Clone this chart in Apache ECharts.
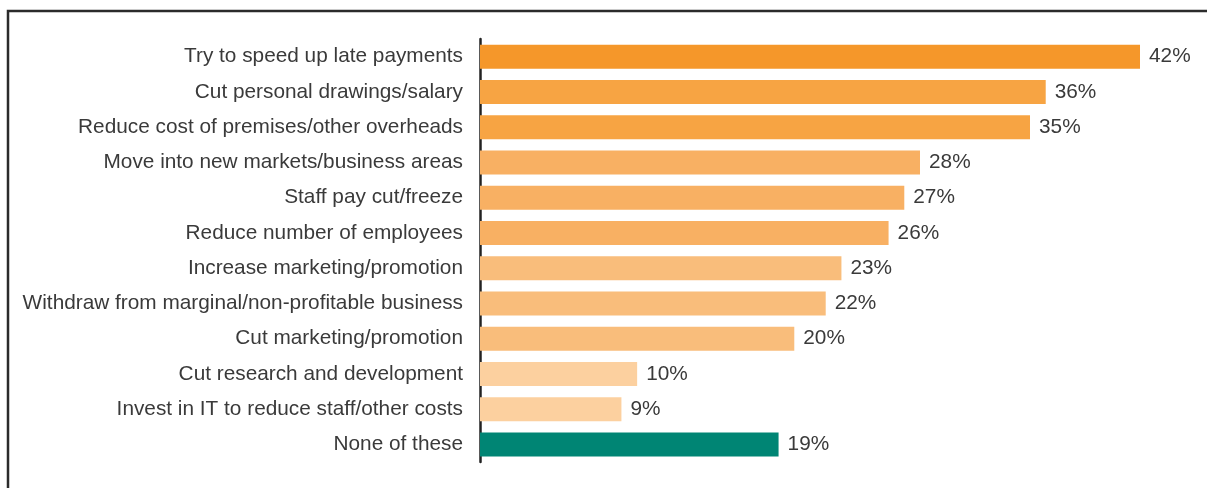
<!DOCTYPE html>
<html>
<head>
<meta charset="utf-8">
<script src="https://cdn.jsdelivr.net/npm/echarts@6/dist/echarts.min.js"></script>
<style>
  html, body { margin: 0; padding: 0; background: #fff; }
  #chart { width: 1207px; height: 488px; }
</style>
</head>
<body>
<div id="chart"></div>
<script>
// Actions taken, share of respondents (%)
const categories = [
  'Try to speed up late payments',
  'Cut personal drawings/salary',
  'Reduce cost of premises/other overheads',
  'Move into new markets/business areas',
  'Staff pay cut/freeze',
  'Reduce number of employees',
  'Increase marketing/promotion',
  'Withdraw from marginal/non-profitable business',
  'Cut marketing/promotion',
  'Cut research and development',
  'Invest in IT to reduce staff/other costs',
  'None of these'
];
const values = [42, 36, 35, 28, 27, 26, 23, 22, 20, 10, 9, 19];
// Fill per bar, shading from strongest to weakest; the last row stands apart
const barColors = [
  '#F5972A', '#F7A443', '#F7A443',
  '#F8B063', '#F8B063', '#F8B063',
  '#F9BD7B', '#F9BD7B', '#F9BD7B',
  '#FCD09F', '#FCD09F',
  '#008574'
];

const chart = echarts.init(document.getElementById('chart'), null, { renderer: 'canvas' });
const font = '"Liberation Sans", Arial, Helvetica, sans-serif';

chart.setOption({
  animation: false,
  backgroundColor: '#fff',
  graphic: [{
    type: 'rect',
    shape: { x: 8, y: 11, width: 1400, height: 700 },
    style: { fill: 'none', stroke: '#2b2b2b', lineWidth: 2.5 },
    silent: true
  }],
  grid: { left: 480, right: 67, top: 39, bottom: 26, containLabel: false },
  xAxis: {
    type: 'value', min: 0, max: 42,
    show: false
  },
  yAxis: {
    type: 'category',
    inverse: true,
    data: categories,
    axisLine: { show: true, lineStyle: { color: '#222', width: 2.5 } },
    axisTick: { show: false },
    axisLabel: { color: '#3a3a3a', fontSize: 20.8, fontFamily: font, margin: 17 }
  },
  series: [{
    type: 'bar',
    barWidth: 24,
    data: values.map((v, i) => ({ value: v, itemStyle: { color: barColors[i] } })),
    label: {
      show: true, position: 'right', distance: 9,
      color: '#3a3a3a', fontSize: 20.8, fontFamily: font,
      formatter: p => p.value + '%'
    }
  }]
});
</script>
</body>
</html>
